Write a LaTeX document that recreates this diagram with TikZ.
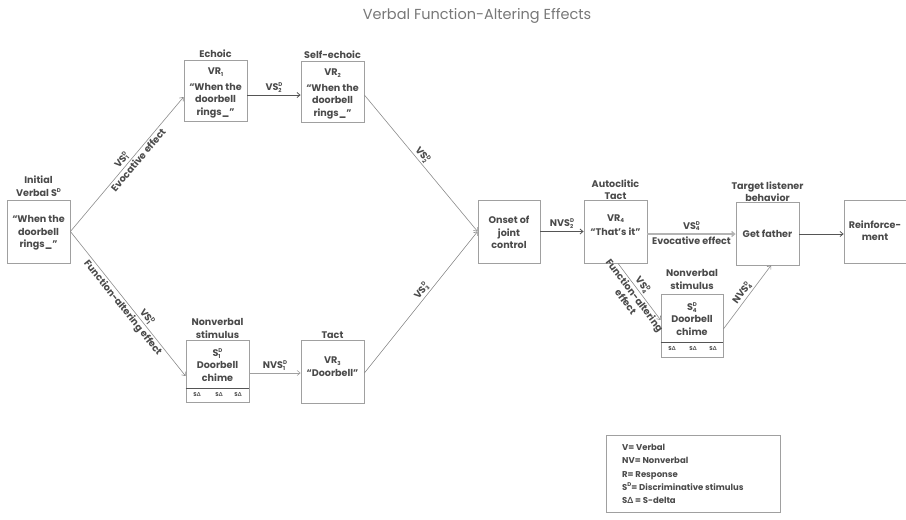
\documentclass[tikz,border=0pt]{standalone}
\usepackage{fontspec}
\setmainfont{Poppins}
\newfontfamily\grk{Lato}
\usetikzlibrary{arrows.meta}
\definecolor{txtc}{HTML}{4A4A4A}
\definecolor{bxc}{HTML}{A0A0A0}
\definecolor{lnc}{HTML}{8C8C8C}
\definecolor{dkc}{HTML}{555555}
\definecolor{ttc}{HTML}{777777}
\newcommand\tsd[2]{{\fontsize{5.5}{6}\selectfont\raisebox{-1.8pt}{\rlap{#2}}\raisebox{3.9pt}{#1}}}
\newcommand\tsub[1]{{\fontsize{5.5}{6}\selectfont\raisebox{-1.6pt}{#1}}}
\newcommand\tsup[1]{{\fontsize{5.5}{6}\selectfont\raisebox{3.9pt}{#1}}}
\newcommand\Dl{{\grk\bfseries Δ}}
\begin{document}
\begin{tikzpicture}[x=1pt,y=-1pt,
  box/.style={draw=bxc, line width=0.8pt, minimum width=63pt, minimum height=63pt, inner sep=0pt},
  tx/.style={font=\fontsize{9.6}{12.6}\selectfont\bfseries, text=txtc, align=center, inner sep=0pt},
  small/.style={font=\fontsize{5.5}{6}\selectfont\bfseries, text=txtc, inner sep=0pt},
  conn/.style={draw=lnc, line width=0.6pt, -{Straight Barb[length=3pt,width=5pt]}},
  dconn/.style={draw=dkc, line width=0.8pt, -{Straight Barb[length=3pt,width=5pt]}},
  lconn/.style={draw=bxc!80, line width=1.3pt, -{Straight Barb[length=3pt,width=5pt]}},
  lab/.style={font=\fontsize{9.6}{12}\selectfont\bfseries, text=txtc, align=center, inner sep=1.5pt}
]
\path[use as bounding box] (0,0) rectangle (906,520);

% title
\node[font=\fontsize{14.5}{17}\selectfont, text=ttc] (title) at (477,16) {Verbal Function-Altering Effects};

% boxes
\node[box] (init) at (38.5,231.5) {};
\node[box, minimum height=61pt] (echoic) at (215.5,90.5) {};
\node[box, minimum height=61pt] (selfecho) at (332.5,91.5) {};
\node[box, minimum height=62pt] (nv1) at (217.5,371) {};
\node[box] (tact) at (332.5,371.5) {};
\node[box, minimum width=62pt] (onset) at (509,231.5) {};
\node[box] (auto) at (615.5,231.5) {};
\node[box, minimum width=62pt] (nv4) at (692,325.5) {};
\node[box] (getf) at (767.5,233.5) {};
\node[box, minimum width=62pt] (reinf) at (875,231.5) {};
\node[box, minimum width=174pt, minimum height=77pt] (legend) at (693,473.5) {};

% separators in nonverbal boxes
\draw[dkc, line width=0.8pt] (nv1.west |- 0,388) coordinate (s1a) -- (s1a -| nv1.east);
\draw[dkc, line width=0.8pt] (nv4.west |- 0,342) coordinate (s4a) -- (s4a -| nv4.east);

% box titles
\node[tx] (initL) at (38.5,186) {Initial\\Verbal S\tsup{D}};
\node[tx] (echoicL) at (215.5,54) {Echoic};
\node[tx] (selfechoL) at (332.5,55) {Self-echoic};
\node[tx] (nv1L) at (217.5,328.5) {Nonverbal\\stimulus};
\node[tx] (tactL) at (332.5,335) {Tact};
\node[tx] (autoL) at (615.5,189.5) {Autoclitic\\Tact};
\node[tx] (nv4L) at (692,279.5) {Nonverbal\\stimulus};
\node[tx] (getfL) at (767.5,191.5) {Target listener\\behavior};

% box contents
\node[tx] (initT) at (38.5,233) {“When the\\doorbell\\rings\_”};
\node[tx] (echoicT) at (215.5,93) {VR\tsub{1}\\[2.5pt]“When the\\doorbell\\rings\_”};
\node[tx] (selfechoT) at (332.5,94) {VR\tsub{2}\\[2.5pt]“When the\\doorbell\\rings\_”};
\node[tx] (nv1T) at (217.5,365) {S\tsd{D}{1}\\Doorbell\\chime};
\node[tx] (tactT) at (332.5,366.5) {VR\tsub{3}\\“Doorbell”};
\node[tx] (onsetT) at (509,232.5) {Onset of\\joint\\control};
\node[tx] (autoT) at (615.5,225) {VR\tsub{4}\\[2pt]“That’s it”};
\node[tx] (nv4T) at (692,319) {S\tsd{D}{4}\\Doorbell\\chime};
\node[tx] (getfT) at (767.5,233.5) {Get father};
\node[tx] (reinfT) at (875,230.5) {Reinforce-\\ment};

% S-delta rows
\node[small] (d1a) at (197,395) {S\Dl};
\node[small] (d1b) at (219,395) {S\Dl};
\node[small] (d1c) at (238,395) {S\Dl};
\node[small] (d4a) at (672,349) {S\Dl};
\node[small] (d4b) at (693,349) {S\Dl};
\node[small] (d4c) at (713,349) {S\Dl};

% legend text
\node[font=\fontsize{8.5}{13.3}\selectfont\bfseries, text=txtc, align=left, inner sep=0pt, anchor=north west] (legT) at (622,444)
  {V= Verbal\\NV= Nonverbal\\R= Response\\S\tsup{D}= Discriminative stimulus\\S\Dl{} = S-delta};

% connectors
\draw[conn] (init.east) -- ([yshift=-6.5pt]echoic.west)
  node[lab, sloped, above, pos=0.5] {VS\tsd{D}{1}}
  node[lab, sloped, below, pos=0.56] {Evocative effect};
\draw[conn] (init.east) -- ([yshift=-5pt]nv1.west)
  node[lab, sloped, above, pos=0.62] {VS\tsd{D}{1}}
  node[lab, sloped, below, pos=0.5] {Function-altering effect};
\draw[dconn] ([yshift=-4.5pt]echoic.east) coordinate (e1) -- (e1 -| selfecho.west)
  node[lab, above, midway, yshift=1pt] {VS\tsd{D}{2}};
\draw[conn] ([yshift=-3.5pt]selfecho.east) -- (onset.west)
  node[lab, sloped, above, pos=0.47] {VS\tsd{D}{2}};
\draw[conn] ([yshift=-1.5pt]tact.east) -- (onset.west)
  node[lab, sloped, above, pos=0.55] {VS\tsd{D}{3}};
\draw[conn, draw=bxc] ([yshift=-2pt]nv1.east) coordinate (n1) -- (n1 -| tact.west)
  node[lab, above, midway, yshift=1pt] {NVS\tsd{D}{1}};
\draw[dconn] (onset.east) -- (auto.west)
  node[lab, above, midway, yshift=1pt] {NVS\tsd{D}{2}};
\draw[lconn] ([yshift=-2.5pt]auto.east) coordinate (a1) -- (a1 -| getf.west)
  node[lab, above, midway, yshift=1pt] {VS\tsd{D}{4}}
  node[lab, below, midway, yshift=-1pt] {Evocative effect};
\draw[conn] ([xshift=2.5pt]auto.south) -- ([yshift=5.5pt]nv4.west)
  node[lab, sloped, above, pos=0.45] {VS\tsd{D}{4}}
  node[lab, sloped, below, pos=0.5, font=\fontsize{9.6}{11}\selectfont\bfseries] {Function-altering\\effect};
\draw[conn] ([yshift=-3.5pt]nv4.east) -- ([xshift=3.5pt]getf.south)
  node[lab, sloped, above, pos=0.5] {NVS\tsd{D}{4}};
\draw[dconn] ([yshift=-0.5pt]getf.east) coordinate (g1) -- (g1 -| reinf.west);
\end{tikzpicture}
\end{document}
